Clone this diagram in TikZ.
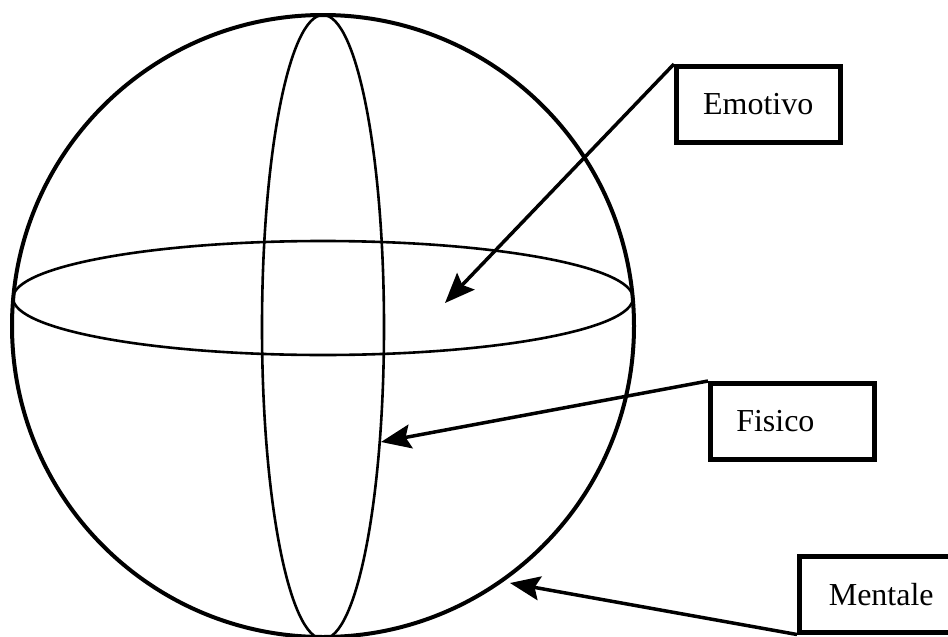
\documentclass[tikz,border=0pt]{standalone}
\usepackage{fontspec}
\setmainfont{Liberation Serif}
\usetikzlibrary{arrows.meta}
\begin{document}
\begin{tikzpicture}[x=1pt,y=-1pt,
  label box/.style={draw=black,line width=4.5pt,minimum width=164pt,minimum height=76pt,inner sep=0pt,font=\fontsize{32}{38}\selectfont,anchor=north west},
  pointer/.style={line width=3.5pt,-{Stealth[length=30pt,width=24pt,inset=5pt]}},
  thin curve/.style={line width=2.6pt}]
\useasboundingbox (0,0) rectangle (948,637);
% sphere
\draw[line width=4pt] (323,326) circle (311);
\draw[thin curve] (323,327) ellipse [x radius=61, y radius=312];
\draw[thin curve] (323,298) ellipse [x radius=310, y radius=57];
% boxes
\node[label box] (emo) at (674,64) {Emotivo};
\node[label box,text width=164pt,align=left] (fis) at (708,381) {\hspace*{26pt}Fisico};
\node[label box] (men) at (797,554) {Mentale};
% tips
\coordinate (emotip) at (445,303);
\coordinate (fistip) at (381,442);
\coordinate (mentip) at (510,583);
\draw[pointer] (emo.north west) -- (emotip);
\draw[pointer] (fis.north west) -- (fistip);
\draw[pointer] (men.south west) -- (mentip);
\end{tikzpicture}
\end{document}
